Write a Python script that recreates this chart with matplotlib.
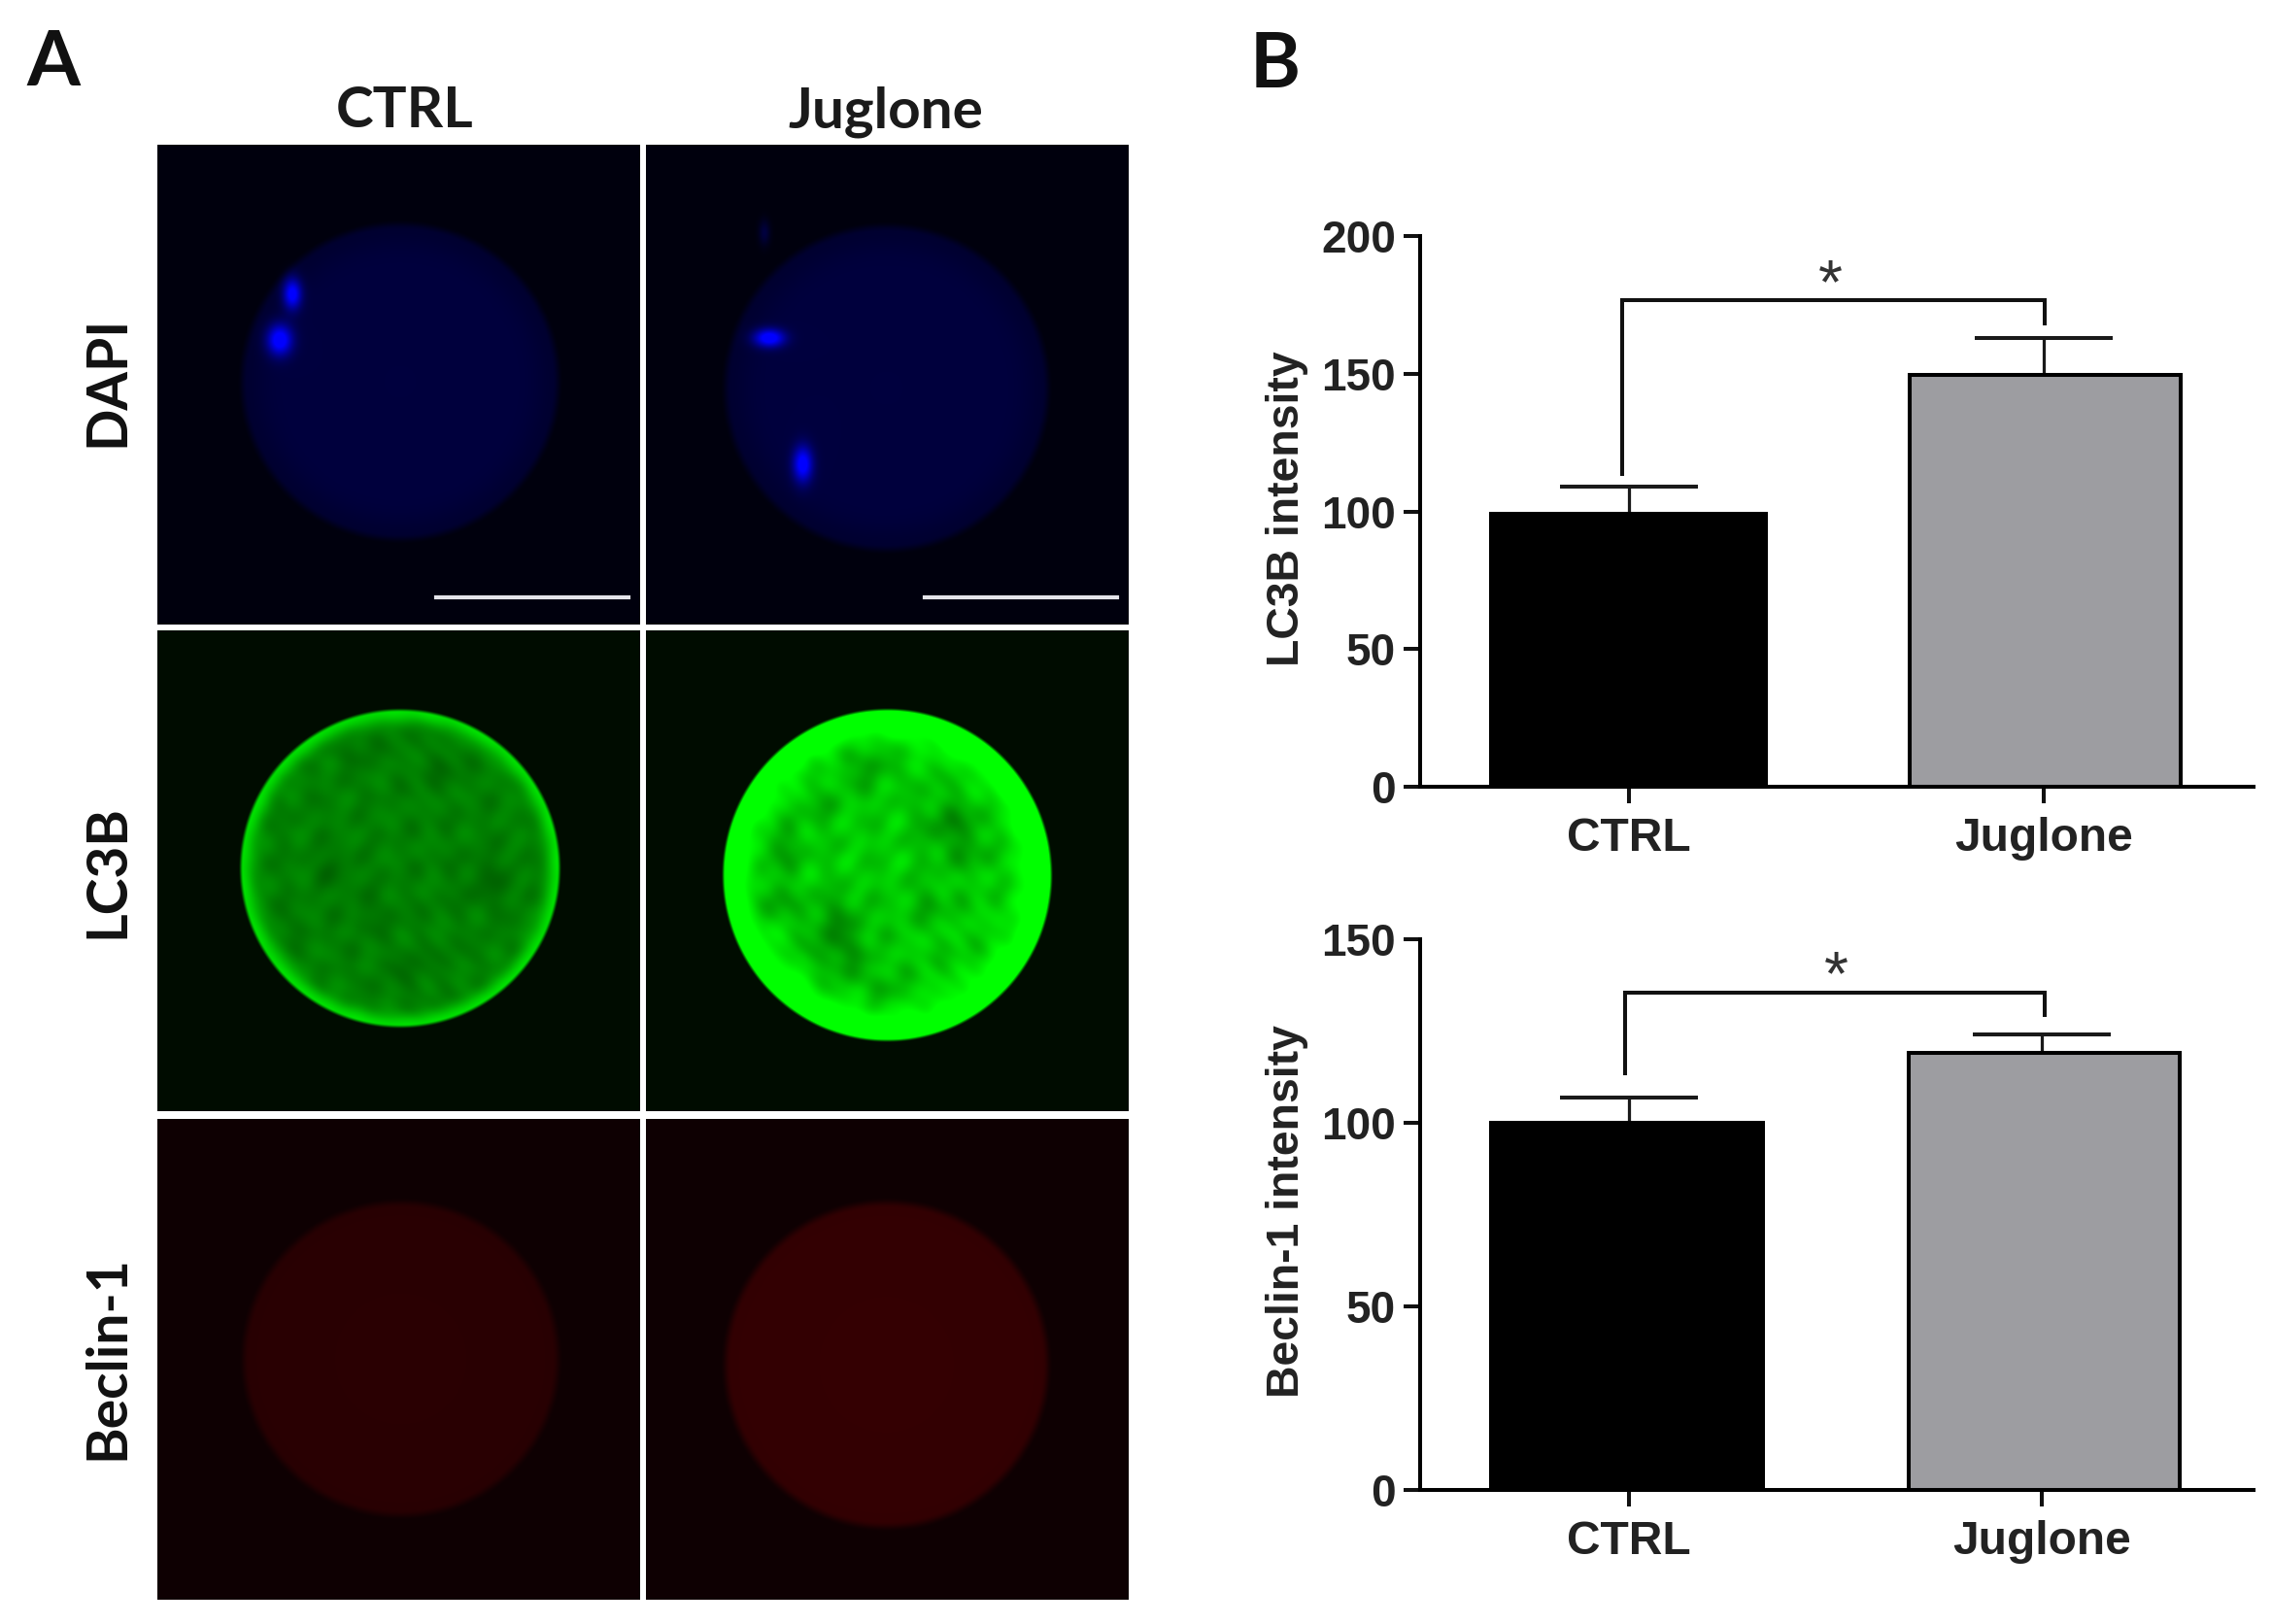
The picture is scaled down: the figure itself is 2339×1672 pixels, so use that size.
import numpy as np
import matplotlib
matplotlib.use("Agg")
import matplotlib.pyplot as plt

W, H = 2339, 1672
DPI = 100
ARIAL = "Liberation Sans"
CAL = "Lato"

groups = ["CTRL", "Juglone"]
lc3b_vals = [99, 149.5]
lc3b_errs = [10, 13.5]
beclin_vals = [100, 119]
beclin_errs = [7, 5]
lc3b_ticks = [0, 50, 100, 150, 200]
beclin_ticks = [0, 50, 100, 150]
bar_colors = ["#000000", "#9d9da1"]
rows = ["DAPI", "LC3B", "Beclin-1"]

fig = plt.figure(figsize=(W / DPI, H / DPI), dpi=DPI, facecolor="white")


def pax(x0, y0, x1, y1, **kw):
    return fig.add_axes([x0 / W, 1 - y1 / H, (x1 - x0) / W, (y1 - y0) / H], **kw)


def ftext(x, y, s, va="center", **kw):
    fig.text(x / W, 1 - y / H, s, ha="center", va=va, **kw)


# ---------- panel A ----------
def panel(box, disc, bg, inner, rim, rimw=0.10, edge=0.022, dark=(), bright=(), tex=0.0, channel=1):
    x0, y0, x1, y1 = box
    xs, ys = np.meshgrid(np.arange(x0, x1) + 0.5, np.arange(y0, y1) + 0.5)
    dx0, dx1, dy0, dy1 = disc
    cx, cy, rx, ry = (dx0 + dx1) / 2, (dy0 + dy1) / 2, (dx1 - dx0) / 2, (dy1 - dy0) / 2
    r = np.hypot((xs - cx) / rx, (ys - cy) / ry)
    mask = np.clip((1.0 - r) / edge + 0.5, 0, 1)
    mask = mask * mask * (3 - 2 * mask)
    rimf = np.exp(-((1 - np.minimum(r, 1)) / rimw) ** 2)
    val = inner + (rim - inner) * rimf
    if tex:
        u = xs + 9 * np.sin(ys / 37.0 + 1.3)
        v = ys + 9 * np.sin(xs / 29.0 + 0.4)
        t = (np.sin(u / 9.3 + v / 21.0 + 0.7) * np.sin(v / 11.7 - u / 27.0)
             + 0.6 * np.sin(u / 5.9 - v / 17.0) * np.cos(v / 7.3 + u / 37.0))
        val = val + tex * t * (1 - 0.7 * rimf)
    for (bx, by, bs, amp) in dark:
        val = val - amp * np.exp(-((xs - bx) ** 2 + (ys - by) ** 2) / (2 * bs ** 2))
    out = np.zeros(xs.shape + (3,))
    for c in range(3):
        out[..., c] = bg[c]
    out[..., channel] = bg[channel] + (val - bg[channel]) * mask
    for (bx, by, sx, sy, amp) in bright:
        out[..., channel] += amp * np.exp(-(xs - bx) ** 2 / (2 * sx ** 2) - (ys - by) ** 2 / (2 * sy ** 2))
    out = np.clip(out, 0, 255) / 255.0
    ax = pax(x0, y0, x1, y1)
    ax.imshow(out, interpolation="bilinear", aspect="auto", extent=(x0, x1, y1, y0))
    ax.set_axis_off()
    return ax


cols = [(162, 659), (665, 1162)]
r1 = (149, 643)
r2 = (649, 1144)
r3 = (1152, 1647)
BLUE_BG = (0, 0, 13)
GREEN_BG = (0, 12, 0)
RED_BG = (14, 0, 2)

a = panel((cols[0][0], r1[0], cols[0][1], r1[1]), (249.5, 574.5, 231, 555), BLUE_BG, 62, 48, rimw=0.15, edge=0.07,
          channel=2, bright=[(301, 302.5, 6.5, 11, 225), (288, 350, 9, 11, 240)])
a.plot([448.5, 647], [615, 615], color="#e4e4ea", lw=3)
a.set_xlim(cols[0]); a.set_ylim(r1[1], r1[0])
b = panel((cols[1][0], r1[0], cols[1][1], r1[1]), (747, 1078.6, 233, 566), BLUE_BG, 62, 48, rimw=0.15, edge=0.07,
          channel=2, bright=[(792, 348, 11, 6.5, 240), (826.5, 478, 7, 13, 225), (787, 239.5, 4, 9, 50)])
b.plot([952.5, 1150], [615, 615], color="#e4e4ea", lw=3)
b.set_xlim(cols[1]); b.set_ylim(r1[1], r1[0])

ctrl_dark = [(342, 895, 14, 18), (502, 908, 20, 20), (382, 940, 18, 12), (370, 773, 14, 15),
             (455, 790, 14, 15), (420, 1000, 18, 12), (300, 950, 14, 9)]
jug_dark = [(893, 786, 18, 42), (979, 850, 22, 55), (803, 873, 16, 45), (793, 928, 16, 45),
            (860, 948, 20, 48), (868, 985, 20, 45), (913, 1020, 14, 30), (955, 930, 16, 28),
            (845, 830, 14, 24), (1000, 880, 14, 22)]
panel((cols[0][0], r2[0], cols[0][1], r2[1]), (248, 576, 731, 1057), GREEN_BG, 128, 225, rimw=0.08, edge=0.03,
      tex=10, dark=ctrl_dark)
panel((cols[1][0], r2[0], cols[1][1], r2[1]), (745, 1082, 731, 1071), GREEN_BG, 205, 310, rimw=0.18, edge=0.03,
      tex=18, dark=jug_dark)

panel((cols[0][0], r3[0], cols[0][1], r3[1]), (251, 574.5, 1238, 1560), RED_BG, 42, 40, edge=0.07, channel=0)
panel((cols[1][0], r3[0], cols[1][1], r3[1]), (747, 1078.6, 1238, 1572), RED_BG, 52, 50, edge=0.07, channel=0)

for x, s in zip((417, 912), groups):
    ftext(x, 131, s, va="baseline", family=CAL, fontweight="bold", fontsize=42, color="#1a1a1a")
for y, s in zip((392, 897, 1398), rows):
    ftext(111, y, s, family=CAL, fontweight="bold", fontsize=41, color="#111111", rotation=90)
ftext(55, 88, "A", va="baseline", family=CAL, fontweight="bold", fontsize=57, color="#111111")
ftext(1313, 90, "B", va="baseline", family=CAL, fontweight="bold", fontsize=57, color="#111111")


# ---------- panel B ----------
LW = 2.9


def barpanel(box, ticks_px, ymax, vals, errs, ticks, ylabel, widths, centers, br, star, ylab_xy):
    x0, y0, x1, y1 = box
    ax = pax(x0, y0, x1, y1)
    unit = ticks_px[1] - ticks_px[0]
    ax.set_xlim((x0 - ticks_px[0]) / unit, (x1 - ticks_px[0]) / unit)
    ax.set_ylim(0, ymax)
    for i in range(2):
        ax.bar(centers[i], vals[i], width=widths[i], color=bar_colors[i], edgecolor="black",
               linewidth=LW, zorder=3)
        ax.errorbar(i, vals[i], yerr=[[0], [errs[i]]], color="#1a1a1a", elinewidth=LW * 0.8,
                    capsize=51, capthick=LW, zorder=2)
    ax.plot([br[0], br[0], br[1], br[1]], [br[2], br[3], br[3], br[4]], color="#111111", lw=LW,
            solid_joinstyle="miter", zorder=4)
    ax.text(star[0], star[1], "*", ha="center", va="center", fontsize=46, color="#333333", family=ARIAL)
    ax.set_xticks([0, 1], groups)
    ax.set_yticks(ticks)
    for s in ("top", "right"):
        ax.spines[s].set_visible(False)
    for s in ("left", "bottom"):
        ax.spines[s].set_linewidth(LW)
        ax.spines[s].set_capstyle("projecting")
    ax.tick_params(axis="both", length=12, width=LW, color="#111111")
    ax.tick_params(axis="y", pad=6)
    ax.tick_params(axis="x", pad=10)
    for t in ax.get_xticklabels() + ax.get_yticklabels():
        t.set_family(ARIAL)
        t.set_fontweight("bold")
        t.set_color("#222222")
    for t in ax.get_yticklabels():
        t.set_fontsize(33)
    for t in ax.get_xticklabels():
        t.set_fontsize(34.5)
    ax.set_facecolor("none")
    ftext(ylab_xy[0], ylab_xy[1], ylabel, family=ARIAL, fontweight="bold", fontsize=33.4, color="#222222", rotation=90)
    return ax


barpanel((1462, 243, 2320, 810), (1676.5, 2104), 200, lc3b_vals, lc3b_errs, lc3b_ticks, "LC3B intensity",
         (0.662, 0.652), (0.0, 1.004), (-0.015, 1.002, 113.6, 176.7, 168.4), (0.487, 181.5), (1325, 524))
barpanel((1462, 967, 2320, 1534), (1676.5, 2102), 150, beclin_vals, beclin_errs, beclin_ticks, "Beclin-1 intensity",
         (0.658, 0.655), (-0.004, 1.006), (-0.008, 1.006, 113.5, 135.5, 129.4), (0.502, 139.5), (1325, 1247))

fig.savefig("out.png", dpi=DPI, facecolor="white")
